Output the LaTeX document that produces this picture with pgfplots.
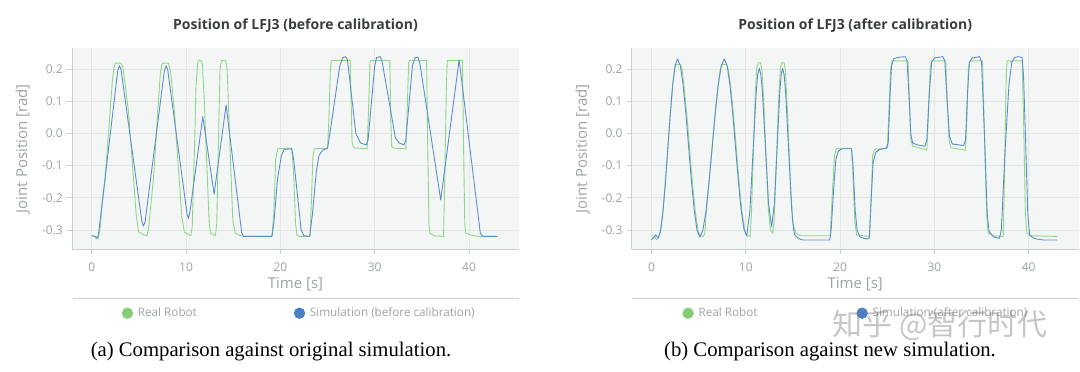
\documentclass[border=0pt]{standalone}
\usepackage{pgfplots}
\pgfplotsset{compat=1.18}
\usepackage{fontspec}
\setmainfont{Open Sans}
\newfontfamily\capfont{Liberation Serif}
\newfontfamily\cjk{Noto Sans CJK SC}
\definecolor{bgc}{HTML}{F4F6F5}
\definecolor{gridc}{HTML}{E2E6E5}
\definecolor{axisc}{HTML}{C9CFCD}
\definecolor{tickc}{HTML}{9EA3A3}
\definecolor{titlec}{HTML}{3A3D3F}
\definecolor{greenl}{HTML}{8ED689}
\definecolor{bluel}{HTML}{5C8ECB}
\definecolor{greend}{HTML}{88CC77}
\definecolor{blued}{HTML}{4A7FC1}

\pgfplotsset{
  lfj/.style={
    scale only axis, width=447pt, height=201pt,
    xmin=-2.1, xmax=45.3, ymin=-0.36, ymax=0.264,
    axis background/.style={fill=bgc},
    axis x line*=bottom, axis y line*=left,
    axis line style={axisc, line width=0.8pt},
    xtick={0,10,20,30,40},
    ytick={-0.3,-0.2,-0.1,0,0.1,0.2},
    /pgf/number format/assume math mode=true,
    grid=major, major grid style={gridc, line width=0.7pt},
    tick align=outside, major tick length=5pt,
    tick style={axisc, line width=0.8pt},
    ticklabel style={font=\fontsize{12}{14}\selectfont, text=tickc},
    xticklabel style={anchor=center, yshift=-13pt},
    yticklabel style={anchor=east, inner sep=0pt, xshift=-4pt,
      /pgf/number format/fixed, /pgf/number format/fixed zerofill, /pgf/number format/precision=1},
    xlabel={Time [s]}, ylabel={Joint Position [rad]},
    label style={font=\fontsize{15}{17}\selectfont, text=tickc},
    xlabel style={at={(axis description cs:0.5,0)}, anchor=center, yshift=-35pt},
    ylabel style={at={(axis description cs:-0.11,0.5)}, anchor=center, rotate=0},
    title style={font=\bfseries\fontsize{14}{16}\selectfont, text=titlec, at={(axis description cs:0.5,1)}, anchor=center, yshift=17pt},
    legend style={draw=none, fill=none, font=\fontsize{11.7}{14}\selectfont, text=tickc,
      legend columns=2, at={(axis description cs:0.111,-0.318)}, anchor=west,
      inner sep=0pt, /tikz/every even column/.append style={column sep=95pt}},
    legend cell align=left,
    legend image code/.code={\fill[##1] (5pt,0pt) circle (5.2pt); \path (13pt,0pt);},
    every axis plot/.append style={line width=0.9pt, line join=round},
  }
}

\begin{document}
\begin{tikzpicture}[x=1pt,y=1pt]
\useasboundingbox (0,0) rectangle (1080,372);

% ---------- left chart ----------
\begin{axis}[lfj, at={(72pt,122.7pt)}, anchor=south west,
  title={Position of LFJ3 (before calibration)}]
\addlegendimage{greend}
\addlegendentry{Real Robot}
\addlegendimage{blued}
\addlegendentry{Simulation (before calibration)}
\addplot[greenl, forget plot] coordinates {
(0,-0.318) (0.3,-0.320) (0.5,-0.328) (0.7,-0.326) (0.9,-0.29) (1.1,-0.22) (1.41,-0.14) (1.94,0.068) (2.2,0.17) (2.4,0.21) (2.5,0.218) (3.1,0.218) (3.3,0.205) (3.5,0.16) (3.89,0.068) (4.42,-0.14) (4.7,-0.25) (4.95,-0.305) (5.3,-0.312) (5.83,-0.318) (6.0,-0.30) (6.2,-0.24) (6.54,-0.14) (7.0,0.068) (7.25,0.18) (7.42,0.214) (7.6,0.218) (8.13,0.218) (8.35,0.19) (8.76,0.068) (9.26,-0.14) (9.55,-0.26) (9.82,-0.307) (10.2,-0.313) (10.5,-0.318) (10.65,-0.29) (10.9,-0.036) (11.05,0.15) (11.24,0.222) (11.35,0.226) (11.6,0.226) (11.73,0.215) (11.9,0.12) (12.2,-0.10) (12.45,-0.28) (12.6,-0.31) (13.1,-0.318) (13.25,-0.28) (13.45,0.0) (13.6,0.2) (13.75,0.226) (14.2,0.226) (14.35,0.2) (14.6,0.0) (14.95,-0.27) (15.2,-0.31) (15.6,-0.316) (16.1,-0.32) (19.1,-0.32) (19.3,-0.25) (19.5,-0.08) (19.7,-0.048) (21.2,-0.046) (21.4,-0.12) (21.6,-0.28) (21.75,-0.316) (22.0,-0.32) (23.15,-0.32) (23.3,-0.2) (23.45,-0.07) (23.6,-0.048) (25.0,-0.046) (25.15,0.05) (25.3,0.2) (25.4,0.226) (27.4,0.226) (27.5,0.1) (27.6,-0.03) (27.8,-0.045) (29.2,-0.048) (29.35,0.08) (29.5,0.22) (29.6,0.226) (31.6,0.226) (31.7,0.05) (31.8,-0.04) (32.0,-0.046) (33.3,-0.048) (33.45,0.08) (33.6,0.22) (33.7,0.226) (35.5,0.226) (35.6,0.0) (35.75,-0.28) (35.85,-0.31) (36.3,-0.318) (37.3,-0.32) (37.45,-0.1) (37.6,0.15) (37.7,0.226) (39.3,0.226) (39.4,0.0) (39.55,-0.28) (39.65,-0.31) (40.2,-0.316) (41.0,-0.32) (43.0,-0.32)
};
\addplot[bluel, forget plot] coordinates {
(0,-0.318) (0.4,-0.320) (0.55,-0.325) (0.7,-0.316) (2.75,0.195) (2.93,0.21) (3.1,0.198) (5.3,-0.272) (5.47,-0.288) (5.65,-0.275) (7.7,0.195) (7.88,0.21) (8.05,0.197) (10.1,-0.25) (10.25,-0.264) (10.4,-0.245) (11.77,0.052) (12.97,-0.189) (14.24,0.088) (15.9,-0.31) (16.1,-0.32) (19.1,-0.32) (19.3,-0.28) (19.7,-0.14) (20.1,-0.07) (20.4,-0.05) (21.2,-0.048) (21.4,-0.08) (22.2,-0.3) (22.5,-0.318) (23.1,-0.32) (23.4,-0.25) (23.8,-0.12) (24.1,-0.068) (24.5,-0.052) (25.0,-0.046) (25.3,0.01) (26.3,0.21) (26.6,0.235) (26.9,0.238) (27.1,0.23) (28.0,0.0) (28.5,-0.03) (29.1,-0.036) (29.3,-0.02) (30.0,0.21) (30.2,0.235) (30.6,0.238) (30.8,0.22) (32.2,-0.015) (32.6,-0.03) (33.1,-0.036) (33.3,-0.02) (34.0,0.21) (34.3,0.236) (34.6,0.236) (34.8,0.215) (37.0,-0.207) (38.95,0.228) (41.2,-0.31) (41.5,-0.32) (43.0,-0.32)
};
\end{axis}
\draw[axisc, line width=0.8pt] (72.7,73.7) -- (519,73.7);
\node[font=\capfont\fontsize{20.7}{24}\selectfont, anchor=center] at (271,20) {(a) Comparison against original simulation.};

% ---------- right chart ----------
\begin{axis}[lfj, at={(631.7pt,122.7pt)}, anchor=south west,
  title={Position of LFJ3 (after calibration)},
  legend style={at={(axis description cs:0.113,-0.318)}, /tikz/every even column/.append style={column sep=97pt}}]
\addlegendimage{greend}
\addlegendentry{Real Robot}
\addlegendimage{blued}
\addlegendentry{Simulation (after calibration)}
\addplot[greenl, forget plot] coordinates {
(0,-0.318) (0.3,-0.32) (0.55,-0.33) (0.8,-0.32) (0.96,-0.30) (1.215,-0.24) (1.47,-0.15) (1.73,-0.047) (1.99,0.059) (2.245,0.15) (2.45,0.200) (2.6,0.213) (3.05,0.214) (3.25,0.198) (3.45,0.145) (3.75,0.055) (4.05,-0.05) (4.35,-0.155) (4.65,-0.245) (4.95,-0.305) (5.2,-0.318) (5.5,-0.32) (5.65,-0.31) (5.8,-0.25) (6.10,-0.151) (6.425,-0.0455) (6.75,0.060) (7.07,0.150) (7.3,0.200) (7.5,0.213) (7.95,0.214) (8.15,0.198) (8.4,0.145) (8.7,0.055) (9.0,-0.05) (9.3,-0.155) (9.6,-0.245) (9.9,-0.305) (10.2,-0.318) (10.45,-0.32) (10.6,-0.25) (10.8,-0.06) (11.0,0.12) (11.15,0.200) (11.3,0.218) (11.55,0.22) (11.7,0.20) (11.9,0.10) (12.15,-0.08) (12.4,-0.24) (12.6,-0.30) (12.85,-0.31) (13.0,-0.27) (13.2,-0.12) (13.45,0.08) (13.65,0.2) (13.8,0.218) (14.05,0.22) (14.2,0.195) (14.45,0.05) (14.75,-0.17) (15.0,-0.28) (15.3,-0.31) (15.8,-0.318) (18.95,-0.318) (19.15,-0.2) (19.4,-0.07) (19.6,-0.048) (21.2,-0.046) (21.35,-0.12) (21.55,-0.27) (21.75,-0.316) (23.1,-0.32) (23.3,-0.2) (23.45,-0.07) (23.65,-0.05) (25.0,-0.046) (25.15,0.05) (25.35,0.2) (25.5,0.225) (27.2,0.225) (27.35,0.1) (27.5,-0.02) (27.7,-0.04) (29.2,-0.052) (29.35,0.05) (29.55,0.2) (29.7,0.225) (31.2,0.225) (31.35,0.1) (31.55,-0.02) (31.75,-0.045) (33.3,-0.052) (33.45,0.05) (33.6,0.2) (33.75,0.225) (35.1,0.225) (35.3,0.0) (35.55,-0.26) (35.7,-0.31) (36.2,-0.318) (37.3,-0.32) (37.45,-0.1) (37.6,0.16) (37.7,0.225) (39.3,0.225) (39.45,0.05) (39.65,-0.25) (39.8,-0.31) (40.3,-0.318) (43,-0.32)
};
\addplot[bluel, forget plot] coordinates {
(0,-0.33) (0.2,-0.325) (0.45,-0.315) (0.7,-0.325) (0.96,-0.304) (1.215,-0.244) (1.47,-0.153) (1.73,-0.047) (1.99,0.059) (2.245,0.150) (2.50,0.210) (2.76,0.231) (3.06,0.210) (3.35,0.150) (3.65,0.060) (3.945,-0.0455) (4.24,-0.151) (4.54,-0.241) (4.83,-0.301) (5.13,-0.322) (5.45,-0.301) (5.78,-0.241) (6.10,-0.151) (6.425,-0.0455) (6.75,0.060) (7.07,0.150) (7.40,0.210) (7.72,0.231) (8.02,0.210) (8.315,0.151) (8.61,0.062) (8.91,-0.0435) (9.21,-0.149) (9.505,-0.238) (9.80,-0.297) (10.1,-0.318) (10.43,-0.242) (10.765,-0.058) (11.10,0.126) (11.26,0.182) (11.43,0.202) (11.59,0.183) (11.76,0.130) (12.085,-0.044) (12.41,-0.218) (12.74,-0.29) (13.03,-0.218) (13.32,-0.044) (13.61,0.130) (13.755,0.183) (13.9,0.202) (14.06,0.182) (14.225,0.126) (14.55,-0.057) (14.875,-0.240) (15.07,-0.30) (15.2,-0.316) (15.5,-0.325) (15.9,-0.330) (16.1,-0.331) (18.9,-0.331) (19.05,-0.30) (19.3,-0.18) (19.55,-0.08) (19.8,-0.055) (20.2,-0.048) (21.2,-0.048) (21.35,-0.09) (21.6,-0.24) (21.8,-0.30) (22.1,-0.322) (22.8,-0.328) (23.1,-0.325) (23.3,-0.2) (23.5,-0.09) (23.8,-0.058) (24.2,-0.05) (24.9,-0.046) (25.1,-0.03) (25.3,0.12) (25.45,0.21) (25.7,0.232) (26.2,0.236) (26.9,0.238) (27.1,0.225) (27.3,0.12) (27.5,-0.005) (27.7,-0.03) (28.2,-0.036) (29.0,-0.04) (29.2,-0.02) (29.45,0.12) (29.7,0.22) (30.0,0.234) (30.9,0.238) (31.1,0.225) (31.35,0.1) (31.6,-0.01) (31.9,-0.033) (33.1,-0.038) (33.3,-0.02) (33.5,0.12) (33.7,0.22) (34.0,0.234) (34.8,0.238) (35.0,0.22) (35.3,0.0) (35.6,-0.25) (35.8,-0.305) (36.3,-0.322) (36.9,-0.326) (37.1,-0.30) (37.5,-0.05) (37.9,0.15) (38.2,0.221) (38.5,0.235) (38.8,0.238) (39.3,0.236) (39.45,0.18) (39.7,-0.05) (39.9,-0.25) (40.1,-0.316) (40.5,-0.325) (40.8,-0.328) (41.5,-0.331) (43,-0.331)
};
\end{axis}
\draw[axisc, line width=0.8pt] (631.7,73.7) -- (1078,73.7);
\node[font=\capfont\fontsize{20.7}{24}\selectfont, anchor=center] at (830,20) {(b) Comparison against new simulation.};
\node[font=\cjk\fontsize{30}{34}\selectfont, text=gray, opacity=0.45, anchor=center] at (940,47) {知乎 @智行时代};
\end{tikzpicture}
\end{document}
